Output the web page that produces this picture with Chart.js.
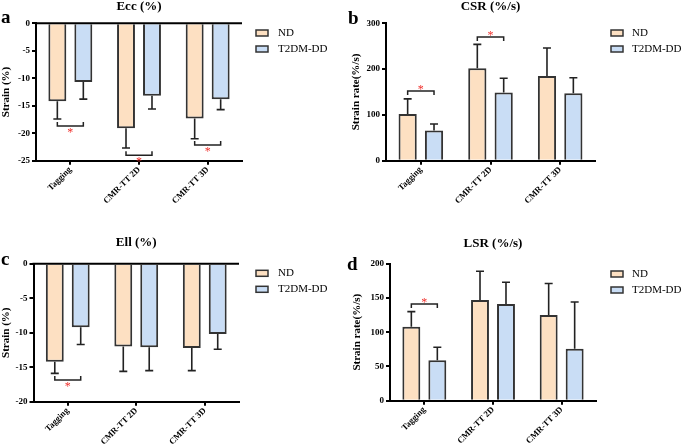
<!DOCTYPE html>
<html>
<head>
<meta charset="utf-8">
<script src="https://cdn.jsdelivr.net/npm/chart.js@4.4.0/dist/chart.umd.min.js"></script>
<style>
body { margin: 0; background: #fff; }
#wrap { position: relative; width: 685px; height: 447px; overflow: hidden; background: #fff; }
canvas { position: absolute; }
</style>
</head>
<body>
<div id="wrap">
  <canvas id="chartA" width="342" height="228" style="left:0;top:0"></canvas>
  <canvas id="chartB" width="343" height="228" style="left:342px;top:0"></canvas>
  <canvas id="chartC" width="342" height="219" style="left:0;top:228px"></canvas>
  <canvas id="chartD" width="343" height="219" style="left:342px;top:228px"></canvas>
</div>
<script>
// data (mean and SD)
const categories = ['Tagging', 'CMR-TT 2D', 'CMR-TT 3D'];
const groups = ['ND', 'T2DM-DD'];

const eccNd = [-14.2, -19.1, -17.3];
const eccNdSd = [3.2, 3.6, 3.7];
const eccDd = [-10.7, -13.2, -13.8];
const eccDdSd = [3.1, 2.4, 1.9];

const csrNd = [102, 202, 185];
const csrNdSd = [33, 52, 61];
const csrDd = [66, 149, 147];
const csrDdSd = [14, 31, 34];

const ellNd = [-14.2, -12.0, -12.2];
const ellNdSd = [1.7, 3.6, 3.3];
const ellDd = [-9.2, -12.1, -10.2];
const ellDdSd = [2.5, 3.4, 2.2];

const lsrNd = [108, 147, 125];
const lsrNdSd = [22, 42, 46];
const lsrDd = [59, 141, 76];
const lsrDdSd = [19, 32, 68];

// significance brackets: category index and the level they sit at
const eccSig = [{ cat: 0, at: -18.7 }, { cat: 1, at: -24.0 }, { cat: 2, at: -22.15 }];
const csrSig = [{ cat: 0, at: 152 }, { cat: 1, at: 270 }];
const ellSig = [{ cat: 0, at: -16.85 }];
const lsrSig = [{ cat: 0, at: 141 }];

const ndFill = '#fde0c2';
const ddFill = '#c9ddf5';
const edge = '#333333';
const serif = "'Liberation Serif', 'Times New Roman', serif";

Chart.defaults.font.family = serif;
Chart.defaults.color = '#000';

const extras = {
  id: 'extras',
  afterDatasetsDraw(chart, args, o) {
    const ctx = chart.ctx;
    const y = chart.scales.y;
    const area = chart.chartArea;
    ctx.save();

    // zero line on the negative panels
    if (y.min < 0) {
      const y0 = y.getPixelForValue(0);
      ctx.strokeStyle = '#000';
      ctx.lineWidth = 2;
      ctx.beginPath();
      ctx.moveTo(area.left - 1, y0);
      ctx.lineTo(area.right, y0);
      ctx.stroke();
    }

    // error bars
    ctx.strokeStyle = '#222';
    ctx.lineWidth = 1.6;
    chart.data.datasets.forEach((ds, i) => {
      const meta = chart.getDatasetMeta(i);
      meta.data.forEach((bar, j) => {
        const v = ds.data[j];
        const end = y.getPixelForValue(v + Math.sign(v) * ds.sd[j]);
        ctx.beginPath();
        ctx.moveTo(bar.x, bar.y);
        ctx.lineTo(bar.x, end);
        ctx.moveTo(bar.x - 4, end);
        ctx.lineTo(bar.x + 4, end);
        ctx.stroke();
      });
    });

    // brackets with stars
    const m0 = chart.getDatasetMeta(0), m1 = chart.getDatasetMeta(1);
    o.sig.forEach(s => {
      const x1 = m0.data[s.cat].x, x2 = m1.data[s.cat].x;
      const py = y.getPixelForValue(s.at);
      const dy = s.at < 0 ? -4 : 4;
      ctx.strokeStyle = '#222';
      ctx.lineWidth = 1.5;
      ctx.beginPath();
      ctx.moveTo(x1, py + dy);
      ctx.lineTo(x1, py);
      ctx.lineTo(x2, py);
      ctx.lineTo(x2, py + dy);
      ctx.stroke();
      ctx.fillStyle = '#f0302c';
      ctx.font = '12px ' + serif;
      ctx.textAlign = 'center';
      ctx.textBaseline = 'alphabetic';
      ctx.fillText('*', (x1 + x2) / 2, py - dy + 5.8);
    });

    // title and panel letter
    ctx.fillStyle = '#000';
    ctx.font = 'bold 13px ' + serif;
    ctx.textAlign = 'center';
    ctx.textBaseline = 'middle';
    ctx.fillText(o.title, (area.left + area.right) / 2, o.titleY);
    ctx.font = 'bold 19px ' + serif;
    ctx.textAlign = 'left';
    ctx.textBaseline = 'alphabetic';
    ctx.fillText(o.letter, o.letterX, o.letterY);

    // legend
    ctx.font = '11px ' + serif;
    ctx.textBaseline = 'middle';
    chart.data.datasets.forEach((ds, i) => {
      const ly = o.legendY + i * 16;
      ctx.fillStyle = ds.backgroundColor;
      ctx.fillRect(o.legendX, ly - 3, 12, 6);
      ctx.strokeStyle = edge;
      ctx.lineWidth = 1.5;
      ctx.strokeRect(o.legendX, ly - 3, 12, 6);
      ctx.fillStyle = '#000';
      ctx.fillText(ds.label, o.textX, ly);
    });
    ctx.restore();
  }
};

function makePanel(id, p) {
  const canvas = document.getElementById(id);
  const w = canvas.width, h = canvas.height;
  new Chart(canvas.getContext('2d'), {
    type: 'bar',
    data: {
      labels: categories,
      datasets: [
        { label: groups[0], data: p.nd, sd: p.ndSd, backgroundColor: ndFill },
        { label: groups[1], data: p.dd, sd: p.ddSd, backgroundColor: ddFill }
      ]
    },
    options: {
      responsive: false,
      animation: false,
      events: [],
      devicePixelRatio: 1,
      layout: { padding: { left: 0, top: p.top, right: w - p.right, bottom: 0 } },
      datasets: {
        bar: {
          borderColor: edge,
          borderWidth: 2,
          borderSkipped: 'start',
          categoryPercentage: 0.757,
          barPercentage: 0.69
        }
      },
      plugins: {
        legend: { display: false },
        tooltip: { enabled: false },
        extras: p.extras
      },
      scales: {
        x: {
          afterFit: s => { s.height = h - p.bottom; },
          grid: { offset: false, drawOnChartArea: false, color: '#000', lineWidth: 2, tickLength: 4 },
          border: { color: '#000', width: 2 },
          ticks: { minRotation: 45, maxRotation: 45, padding: 0, color: '#000', font: { size: 8.7, weight: 'bold' } }
        },
        y: {
          min: p.min,
          max: p.max,
          afterFit: s => { s.width = p.left; },
          grid: { drawOnChartArea: false, color: '#000', lineWidth: 2, tickLength: 4 },
          border: { color: '#000', width: 2 },
          ticks: { stepSize: p.step, padding: 2, color: '#000', font: { size: 9, weight: 'bold' } },
          title: {
            display: true,
            text: p.yTitle,
            color: '#000',
            font: { size: 11, weight: 'bold' },
            padding: { top: p.yTitlePad, bottom: 0 }
          }
        }
      }
    },
    plugins: [extras]
  });
}

makePanel('chartA', {
  nd: eccNd, ndSd: eccNdSd, dd: eccDd, ddSd: eccDdSd,
  min: -25, max: 0, step: 5, yTitle: 'Strain (%)', yTitlePad: 0,
  left: 36, top: 23.3, right: 242, bottom: 160.7,
  extras: { sig: eccSig, title: 'Ecc (%)', titleY: 7, letter: 'a', letterX: 1, letterY: 23,
            legendX: 256, legendY: 33, textX: 278 }
});

makePanel('chartB', {
  nd: csrNd, ndSd: csrNdSd, dd: csrDd, ddSd: csrDdSd,
  min: 0, max: 300, step: 100, yTitle: 'Strain rate(%/s)', yTitlePad: 8,
  left: 44, top: 23.3, right: 253, bottom: 160.7,
  extras: { sig: csrSig, title: 'CSR (%/s)', titleY: 7, letter: 'b', letterX: 6, letterY: 24,
            legendX: 269, legendY: 33, textX: 290 }
});

makePanel('chartC', {
  nd: ellNd, ndSd: ellNdSd, dd: ellDd, ddSd: ellDdSd,
  min: -20, max: 0, step: 5, yTitle: 'Strain (%)', yTitlePad: 0,
  left: 33.5, top: 35.7, right: 239, bottom: 173.7,
  extras: { sig: ellSig, title: 'Ell (%)', titleY: 15, letter: 'c', letterX: 1, letterY: 37,
            legendX: 256, legendY: 45.3, textX: 278 }
});

makePanel('chartD', {
  nd: lsrNd, ndSd: lsrNdSd, dd: lsrDd, ddSd: lsrDdSd,
  min: 0, max: 200, step: 50, yTitle: 'Strain rate(%/s)', yTitlePad: 9,
  left: 48, top: 35.7, right: 254, bottom: 172.7,
  extras: { sig: lsrSig, title: 'LSR (%/s)', titleY: 16, letter: 'd', letterX: 5, letterY: 42,
            legendX: 269, legendY: 46, textX: 290 }
});
</script>
</body>
</html>
